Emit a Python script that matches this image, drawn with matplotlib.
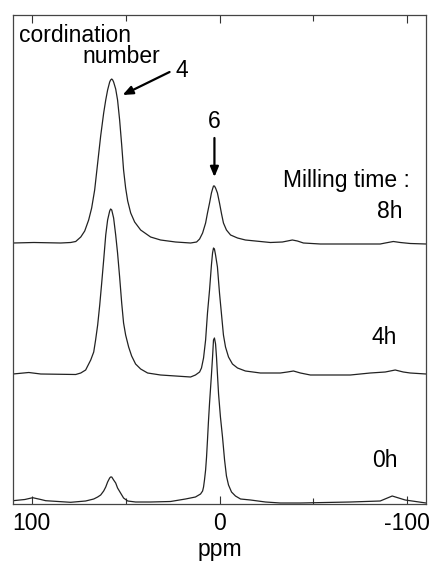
import matplotlib.pyplot as plt

plt.rcParams["font.family"] = ["Liberation Sans", "DejaVu Sans"]

# spectra: chemical shift (ppm) and intensity above each baseline
ppm_8h = [110, 98.9, 84.6, 79.3, 76.6, 73.9, 71.8, 69.7, 68.1, 66.5, 64.9, 63.3, 61.7,
          60.6, 59.6, 58.5, 58.0, 57.4, 56.9, 56.4, 55.3, 54.3, 53.2, 52.1, 51.1, 50.0,
          48.9, 47.3, 45.2, 42.0, 36.7, 31.4, 23.4, 15.4,
          12.2, 10.6, 9.0, 7.4, 6.4, 5.3, 4.3, 3.7, 3.2, 2.7, 2.1, 1.1, 0.0, -1.1,
          -2.1, -3.7, -5.9, -9.6, -13.8, -19.1, -27.1,
          -33.5, -36.2, -38.8, -41.5, -44.7, -53.7, -85.6, -88.3, -92.6, -96.3,
          -101.6, -110]
int_8h = [0, 0.5, 0, 0.5, 1.5, 6, 12, 23, 35, 53, 80, 107, 130,
          143, 153, 161, 163, 164, 163, 161, 154, 143, 123, 98, 73, 55,
          42, 30, 21, 13, 6, 3, 1, 0,
          1, 4, 10, 20, 30, 40, 50, 54, 57, 57, 55, 50, 40, 29,
          20, 13, 8, 5, 3, 2, 0.5,
          1, 2, 3, 2, 0, -1, -1, 0, 1.5, 0.5,
          -0.5, -1]

ppm_4h = [110, 101.6, 95.2, 76.6, 73.9, 71.3, 68.6, 67.0, 66.0, 64.9, 63.8, 62.8, 61.7,
          60.6, 59.6, 58.5, 58.0, 57.4, 56.4, 55.3, 54.3, 53.2, 52.1, 51.1, 50.0,
          48.4, 46.8, 44.7, 42.0, 38.3, 31.4, 23.4, 15.4,
          12.8, 10.6, 9.6, 8.5, 7.4, 6.4, 5.3, 4.3, 3.7, 3.2, 2.7, 2.1, 1.1, 0.0,
          -1.1, -2.1, -3.2, -4.8, -6.9, -9.6, -13.8, -21.8,
          -32.4, -36.2, -39.4, -43.1, -48.4, -69.7, -80.3, -88.3, -93.6, -97.9,
          -101.6, -110]
int_4h = [1, 2.5, 1, 0.5, 2, 5, 15, 23, 35, 50, 70, 91, 115,
          140, 155, 164, 166, 165, 157, 140, 122, 98, 72, 52, 40,
          28, 19, 11, 6, 2, 0, -1, -2,
          0, 3, 7, 17, 35, 62, 85, 110, 122, 127, 126, 120, 108, 82,
          60, 40, 28, 18, 11, 7, 4, 2,
          2, 3, 4, 2, 0, 0, 2, 3, 5, 3,
          2, 1]

ppm_0h = [110, 103.7, 99.5, 95.2, 92.6, 79.3, 71.3, 67.0, 64.9, 63.3, 61.7, 60.6, 59.6,
          58.5, 58.0, 57.4, 56.4, 55.3, 54.3, 52.7, 51.1, 48.9, 44.7, 36.7, 26.1,
          18.1, 12.8, 10.1, 9.0, 8.5, 8.0, 7.4, 6.9, 6.4, 5.9, 5.3, 4.8, 4.3, 3.7,
          3.2, 2.7, 2.1, 1.6, 1.1, 0.5, -0.5, -1.6, -2.7, -3.7, -4.8, -6.4, -8.5,
          -11.2, -16.5, -24.5, -32.4, -43.1, -69.7, -85.6, -92.0, -98.9, -110]
int_0h = [1.3, 2.5, 4.3, 2.5, 1.3, -0.3, 1, 3, 5, 7, 11, 15, 20,
          24, 25, 25, 22, 19, 14, 9, 4, 1, 0, 0, 0.5,
          3, 5, 8, 11, 15, 22, 32, 45, 62, 80, 99, 113, 127, 145,
          162, 164, 158, 145, 128, 108, 85, 65, 42, 26, 17, 10, 6,
          3, 2, 0, -1, -1, 0, 1, 6, 2, -1]

spectra = [(ppm_8h, int_8h, 261), (ppm_4h, int_4h, 129), (ppm_0h, int_0h, 2)]

fig = plt.figure(figsize=(4.33, 5.61), dpi=100)
ax = fig.add_axes([13 / 433, 57 / 561, 413 / 433, 489 / 561])

for ppm, inten, offset in spectra:
    ax.plot(ppm, [v + offset for v in inten], color="#222222", linewidth=0.9)

fs = 16.5
ax.set_xlim(110, -110)
ax.set_ylim(0, 489)
ax.set_xticks([100, 0, -100])
ax.set_xticklabels(["100", "0", "-100"])
ax.set_xticks([50, -50], minor=True)
ax.set_yticks([])
ax.tick_params(axis="x", which="both", direction="in", top=True, labelsize=fs, pad=6,
               color="#333333")
ax.tick_params(axis="x", which="major", length=6, width=0.8)
ax.tick_params(axis="x", which="minor", length=4, width=0.8)
for s in ax.spines.values():
    s.set_linewidth(0.9)
    s.set_color("#444444")
ax.set_xlabel("ppm", fontsize=fs, labelpad=2)

ax.text(106.9, 462, "cordination", fontsize=fs, ha="left", va="baseline")
ax.text(52.1, 441, "number", fontsize=fs, ha="center", va="baseline")
ax.text(23.4, 427, "4", fontsize=fs, ha="left", va="baseline")
ax.annotate("", xy=(51.6, 409), xytext=(26.6, 432),
            arrowprops=dict(arrowstyle="-|>,head_length=0.6,head_width=0.25",
                            color="black", lw=1.6, shrinkA=0, shrinkB=0))
ax.text(2.7, 376, "6", fontsize=fs, ha="center", va="baseline")
ax.annotate("", xy=(2.7, 327), xytext=(2.7, 366),
            arrowprops=dict(arrowstyle="-|>,head_length=0.6,head_width=0.25",
                            color="black", lw=1.6, shrinkA=0, shrinkB=0))
ax.text(-101.6, 317, "Milling time :", fontsize=fs, ha="right", va="baseline")
ax.text(-97.3, 286, "8h", fontsize=fs, ha="right", va="baseline")
ax.text(-94.7, 160, "4h", fontsize=fs, ha="right", va="baseline")
ax.text(-94.7, 37, "0h", fontsize=fs, ha="right", va="baseline")

fig.savefig("out.png", dpi=100)
